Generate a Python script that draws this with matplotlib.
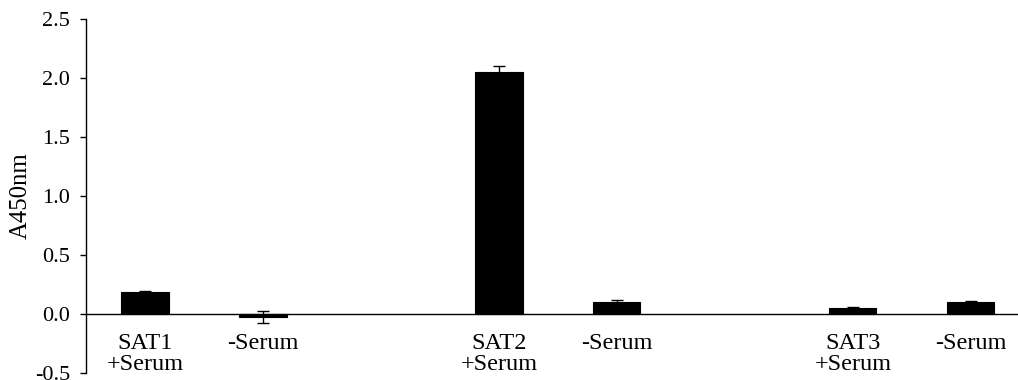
import matplotlib.pyplot as plt
import matplotlib.ticker as mt
import numpy as np

plt.rcParams['font.family'] = ['Liberation Serif', 'DejaVu Serif']
plt.rcParams['axes.unicode_minus'] = False

labels = ["SAT1\n+Serum", "-Serum", "SAT2\n+Serum", "-Serum", "SAT3\n+Serum", "-Serum"]
positions = [0, 1, 3, 4, 6, 7]
values = [0.185, -0.025, 2.05, 0.10, 0.048, 0.10]
errors = [0.008, 0.05, 0.055, 0.017, 0.013, 0.013]

fig = plt.figure(figsize=(10.18, 3.80), dpi=100)
ax = fig.add_axes([86/1018, 7/380, 1 - 86/1018, (373-19)/380])

ax.bar(positions, values, width=0.4, color='black', edgecolor='black', linewidth=0.8,
       yerr=errors, error_kw=dict(ecolor='black', elinewidth=1.0, capsize=4.5, capthick=1.0))
ax.axhline(0, color='black', lw=1.0, zorder=0.5)

ax.set_xlim(-0.5, 7.4)
ax.set_ylim(-0.5, 2.5)
ax.set_yticks(np.arange(-0.5, 2.51, 0.5))
ax.yaxis.set_major_formatter(mt.FormatStrFormatter('%.1f'))
ax.set_xticks([])

for s in ['top', 'right', 'bottom']:
    ax.spines[s].set_visible(False)
ax.spines['left'].set_linewidth(1.0)
ax.tick_params(axis='y', direction='out', length=4.5, width=1.0, pad=7, labelsize=16)

for x, lab in zip(positions, labels):
    ax.text(x, -0.165, lab, ha='center', va='top', fontsize=17.5, linespacing=1.0)

ax.set_ylabel("A450nm", fontsize=17.8)
ax.yaxis.set_label_coords(-0.058, 0.5)

fig.savefig("out.png", dpi=100)
